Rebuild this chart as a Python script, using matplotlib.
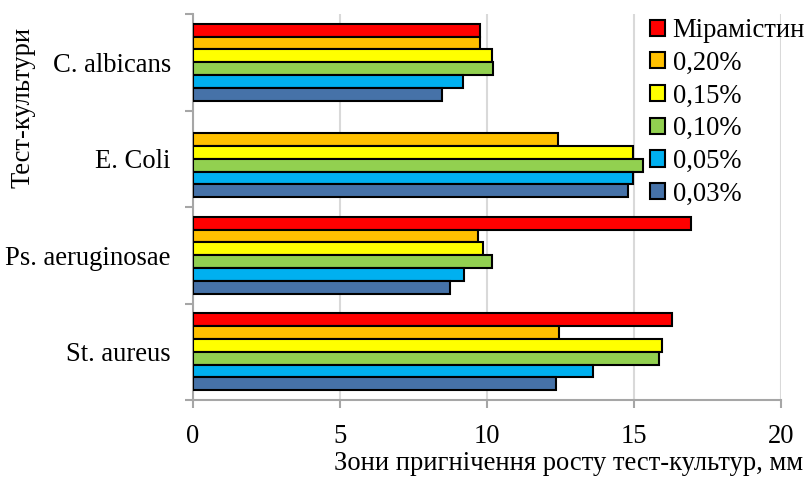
import matplotlib
matplotlib.use("Agg")
import matplotlib.pyplot as plt
import numpy as np
from matplotlib.patches import Patch

plt.rcParams['font.family'] = ['Liberation Serif', 'DejaVu Serif']

categories = ["St. aureus", "Ps. aeruginosae", "E. Coli", "C. albicans"]
series_names = ["Мірамістин", "0,20%", "0,15%", "0,10%", "0,05%", "0,03%"]
miramistin = [16.3, 16.94, np.nan, 9.76]
c020 = [12.45, 9.68, 12.41, 9.75]
c015 = [15.94, 9.85, 14.97, 10.17]
c010 = [15.84, 10.16, 15.31, 10.2]
c005 = [13.6, 9.22, 14.96, 9.18]
c003 = [12.34, 8.74, 14.8, 8.47]
series_values = [miramistin, c020, c015, c010, c005, c003]
colors = ["#FF0000", "#FFC000", "#FFFF00", "#92D050", "#00B0F0", "#4672A8"]
xticks = [0, 5, 10, 15, 20]

FS = 19.2
W, H = 807, 483
fig = plt.figure(figsize=(W/100, H/100), dpi=100)
ax = fig.add_axes([193/W, 1-400/H, (781-193)/W, (400-14)/H])

n = len(series_names)
h = 0.8 / n
y = np.arange(len(categories))
for j, (vals, col) in enumerate(zip(series_values, colors)):
    off = (n/2 - 0.5 - j) * h
    ax.barh(y + off, vals, height=h, color=col, edgecolor='black', linewidth=1.5, zorder=3)

ax.set_xlim(0, 20)
ax.set_ylim(-0.5, len(categories) - 0.5)
ax.set_xticks(xticks)
ax.set_xticklabels([str(t) for t in xticks], fontsize=FS)
ax.xaxis.grid(True, color='#D9D9D9', linewidth=1.5, zorder=0)
ax.set_axisbelow(True)

ax.set_yticks(np.arange(-0.5, len(categories)), labels=[''] * (len(categories) + 1))
ax.set_yticks(y, minor=True)
ax.set_yticklabels(categories, minor=True, fontsize=FS)
ax.tick_params(axis='y', which='minor', length=0, pad=16)
ax.tick_params(axis='y', which='major', length=6, width=1.5, color='#A6A6A6', direction='out')
ax.tick_params(axis='x', length=6, width=1.5, color='#A6A6A6', direction='out', pad=11)

for s in ['top', 'right']:
    ax.spines[s].set_visible(False)
for s in ['left', 'bottom']:
    ax.spines[s].set_color('#A6A6A6')
    ax.spines[s].set_linewidth(1.5)

fig.text(803/W, 1-464/H, "Зони пригнічення росту тест-культур, мм", ha='right', va='center', fontsize=FS)
fig.text(23/W, 1-107/H, "Тест-культури", rotation=90, ha='center', va='center', fontsize=FS)

handles = [Patch(facecolor=c, edgecolor='black', linewidth=1.5) for c in colors]
fig.legend(handles, series_names, loc='upper left', bbox_to_anchor=(650/W, 1-18/H),
           frameon=False, fontsize=FS, handlelength=0.55, handleheight=0.55,
           handletextpad=0.3, labelspacing=0.29, borderaxespad=0, borderpad=0)

fig.savefig("out.png", dpi=100)
